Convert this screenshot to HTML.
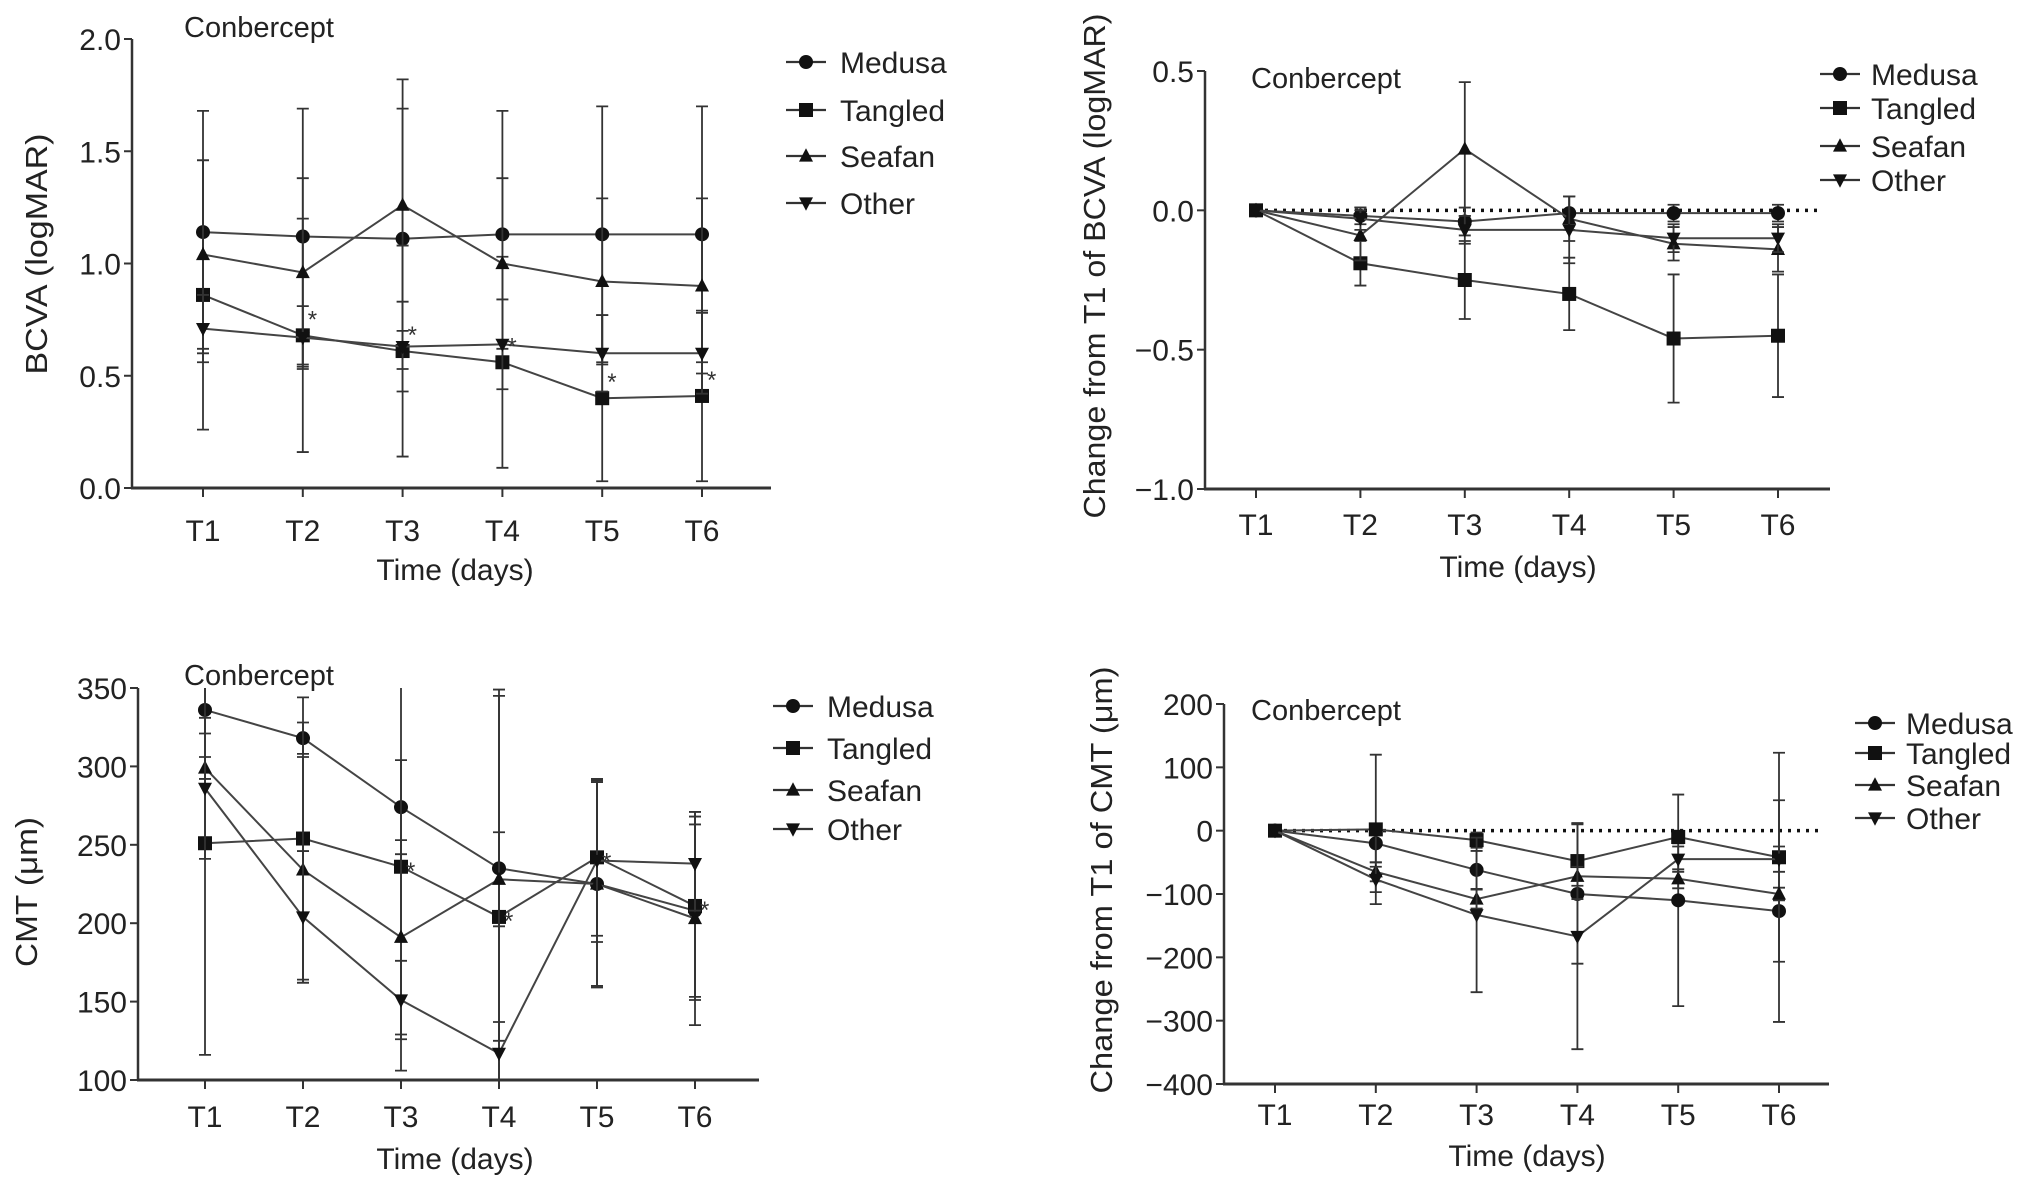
<!DOCTYPE html>
<html><head><meta charset="utf-8"><style>
html,body{margin:0;padding:0;background:#fff;}
svg{display:block;font-family:"Liberation Sans",Arial,sans-serif;}
</style></head><body>
<svg id="fig" width="2032" height="1184" viewBox="0 0 2032 1184" xmlns="http://www.w3.org/2000/svg"></svg>
<script>
const categories = ["T1","T2","T3","T4","T5","T6"];
const seriesNames = ["Medusa","Tangled","Seafan","Other"];
const markerShapes = ["circle","square","up","down"];

// Panel A: BCVA
const aTicks = [0,0.5,1.0,1.5,2.0];
const aTickLabels = ["0.0","0.5","1.0","1.5","2.0"];
const aMedusa = [1.14,1.12,1.11,1.13,1.13,1.13];
const aTangled = [0.86,0.68,0.61,0.56,0.40,0.41];
const aSeafan = [1.04,0.96,1.26,1.00,0.92,0.90];
const aOther = [0.71,0.67,0.63,0.64,0.60,0.60];
const aMedusaSd = [0.54,0.57,0.58,0.55,0.57,0.57];
const aTangledSd = [0.60,0.52,0.47,0.47,0.37,0.38];
const aSeafanSd = [0.42,0.42,0.56,0.38,0.37,0.39];
const aOtherSd = [0.15,0.14,0.20,0.20,0.17,0.18];

// Panel B: change in BCVA
const bTicks = [-1.0,-0.5,0,0.5];
const bTickLabels = ["\u22121.0","\u22120.5","0.0","0.5"];
const bMedusa = [0,-0.02,-0.04,-0.01,-0.01,-0.01];
const bTangled = [0,-0.19,-0.25,-0.30,-0.46,-0.45];
const bSeafan = [0,-0.09,0.22,-0.03,-0.12,-0.14];
const bOther = [0,-0.03,-0.07,-0.07,-0.10,-0.10];
const bMedusaSd = [0,0.03,0.05,0.06,0.03,0.03];
const bTangledSd = [0,0.08,0.14,0.13,0.23,0.22];
const bSeafanSd = [0,0.09,0.24,0.08,0.06,0.08];
const bOtherSd = [0,0.04,0.05,0.12,0.05,0.05];

// Panel C: CMT
const cTicks = [100,150,200,250,300,350];
const cTickLabels = ["100","150","200","250","300","350"];
const cMedusa = [336,318,274,235,225,208];
const cTangled = [251,254,236,204,242,211];
const cSeafan = [299,234,191,228,225,203];
const cOther = [286,204,151,117,240,238];
const cMedusaSd = [15,10,30,110,65,55];
const cTangledSd = [135,90,130,145,50,60];
const cSeafanSd = [7,72,62,30,66,68];
const cOtherSd = [45,42,25,20,52,30];

// Panel D: change in CMT
const dTicks = [-400,-300,-200,-100,0,100,200];
const dTickLabels = ["\u2212400","\u2212300","\u2212200","\u2212100","0","100","200"];
const dMedusa = [0,-20,-62,-100,-110,-127];
const dTangled = [0,2,-15,-48,-10,-42];
const dSeafan = [0,-65,-108,-72,-76,-100];
const dOther = [0,-77,-133,-167,-45,-45];
const dMedusaSd = [0,30,30,110,167,175];
const dTangledSd = [0,118,12,60,10,165];
const dSeafanSd = [0,15,15,15,15,10];
const dOtherSd = [0,20,122,178,20,20];

const svg = document.getElementById('fig');
const NS = 'http://www.w3.org/2000/svg';
function mk(tag, attrs, parent){
  const e = document.createElementNS(NS, tag);
  for (const k in attrs) e.setAttribute(k, attrs[k]);
  (parent||svg).appendChild(e);
  return e;
}
function marker(g, shape, x, y, s){
  let e;
  if (shape==='circle') e = mk('circle',{cx:x,cy:y,r:s,fill:'#111'},g);
  else if (shape==='square') e = mk('rect',{x:x-s,y:y-s,width:2*s,height:2*s,fill:'#111'},g);
  else if (shape==='up') e = mk('polygon',{points:`${x},${y-s*1.1} ${x-s},${y+s*0.8} ${x+s},${y+s*0.8}`,fill:'#111'},g);
  else e = mk('polygon',{points:`${x},${y+s*1.1} ${x-s},${y-s*0.8} ${x+s},${y-s*0.8}`,fill:'#111'},g);
  return e;
}

function panel(p){
  const g = mk('g',{});
  
  
  const ys = v => p.y0 + (v - p.vmin)/(p.vmax - p.vmin)*(p.y1 - p.y0);
  const xs = i => p.xT1 + i*(p.xT6 - p.xT1)/(categories.length-1);
  const top = ys(p.vmax), bot = ys(p.vmin);
  const ya = mk('line',{x1:p.axX,y1:top,x2:p.axX,y2:p.y0,stroke:'#333','stroke-width':2.5},g);
   
  const xa = mk('line',{x1:p.axX-1,y1:p.y0,x2:p.axEnd,y2:p.y0,stroke:'#333','stroke-width':3},g);
   
  p.ticks.forEach((t,i)=>{
    const y = ys(t);
    mk('line',{x1:p.axX-8,y1:y,x2:p.axX,y2:y,stroke:'#333','stroke-width':2},g);
    const tl = mk('text',{x:p.axX-11,y:y+11,'font-size':30,'text-anchor':'end',fill:'#222'},g);
    tl.textContent = p.tickLabels[i];
     
  });
  categories.forEach((c,i)=>{
    const x = xs(i);
    mk('line',{x1:x,y1:p.y0,x2:x,y2:p.y0+9,stroke:'#333','stroke-width':2},g);
    const tl = mk('text',{x:x,y:p.tickY+11,'font-size':30,'text-anchor':'middle',fill:'#222'},g);
    tl.textContent = c;
     
  });
  const xt = mk('text',{x:p.xTitleX,y:p.xTitleY+11,'font-size':30,'text-anchor':'middle',fill:'#222'},g);
  xt.textContent = 'Time (days)';
   
  const yt = mk('text',{x:0,y:0,'font-size':31,'text-anchor':'middle',fill:'#222',textLength:p.yTitleLen,lengthAdjust:'spacingAndGlyphs',transform:`translate(${p.yTitleX+11},${p.yTitleY}) rotate(-90)`},g);
  yt.textContent = p.yTitle;
   
  const ct = mk('text',{x:p.conX,y:p.conY+10,'font-size':29,fill:'#222'},g);
  ct.textContent = 'Conbercept';
   
  if (p.zeroLine){
    const zl = mk('line',{x1:p.xT1,y1:ys(0),x2:p.axEnd-8,y2:ys(0),stroke:'#111','stroke-width':3.5,'stroke-dasharray':'3 6'},g);
     
  }
  p.series.forEach((vals,si)=>{
    const sg = mk('g',{},g);
    
    
    const sd = p.sds[si];
    vals.forEach((v,i)=>{
      if (!sd[i]) return;
      const x = xs(i);
      const yu = Math.max(ys(v+sd[i]), top), yl = Math.min(ys(v-sd[i]), bot);
      const eb = mk('path',{d:`M${x},${yu}V${yl}`+(ys(v+sd[i])>=top?`M${x-6},${yu}H${x+6}`:'')+(ys(v-sd[i])<=bot?`M${x-6},${yl}H${x+6}`:''),stroke:'#333','stroke-width':1.8,fill:'none'},sg);
       
    });
    const pts = vals.map((v,i)=>`${xs(i)},${ys(v)}`).join(' ');
    const ln = mk('polyline',{points:pts,fill:'none',stroke:'#444','stroke-width':2},sg);
     
    vals.forEach((v,i)=>{
      const m = marker(sg, markerShapes[si], xs(i), ys(v), 7);
       
    });
  });
  if (p.stars){
    p.stars.forEach(i=>{
      const st = mk('text',{x:xs(i)+5,y:ys(p.series[1][i])-p.starOff,'font-size':24,fill:'#333'},g);
      st.textContent = '*';
       
    });
  }
  seriesNames.forEach((n,i)=>{
    const lg = mk('g',{},g);
    
    
    const y = p.legY[i];
    mk('line',{x1:p.legX-20,y1:y,x2:p.legX+20,y2:y,stroke:'#333','stroke-width':2.2},lg);
    marker(lg, markerShapes[i], p.legX, y, 7);
    const t = mk('text',{x:p.legTX,y:y+11,'font-size':30,fill:'#222'},lg);
    t.textContent = n;
  });
}

panel({name:'bcva-chart',vmin:0,vmax:2,y0:488,y1:39,ticks:aTicks,tickLabels:aTickLabels,
  axX:132,axEnd:771,xT1:203,xT6:702,tickY:530,xTitleX:455,xTitleY:569,
  yTitle:'BCVA (logMAR)',yTitleX:36,yTitleY:254,yTitleLen:241,conX:184,conY:27,
  series:[aMedusa,aTangled,aSeafan,aOther],sds:[aMedusaSd,aTangledSd,aSeafanSd,aOtherSd],
  stars:[1,2,3,4,5],starOff:8,legX:806,legTX:840,legY:[62,110,156,203]});
panel({name:'bcva-change-chart',vmin:-1,vmax:0.5,y0:489,y1:71,ticks:bTicks,tickLabels:bTickLabels,
  axX:1205,axEnd:1830,xT1:1256,xT6:1778,tickY:524,xTitleX:1518,xTitleY:566,
  yTitle:'Change from T1 of BCVA (logMAR)',yTitleX:1094,yTitleY:266,yTitleLen:505,conX:1251,conY:78,zeroLine:true,
  series:[bMedusa,bTangled,bSeafan,bOther],sds:[bMedusaSd,bTangledSd,bSeafanSd,bOtherSd],
  legX:1840,legTX:1871,legY:[74,108,146,180]});
panel({name:'cmt-chart',vmin:100,vmax:350,y0:1080,y1:688,ticks:cTicks,tickLabels:cTickLabels,
  axX:138,axEnd:759,xT1:205,xT6:695,tickY:1116,xTitleX:455,xTitleY:1158,
  yTitle:'CMT (\u03bcm)',yTitleX:26,yTitleY:892,yTitleLen:150,conX:184,conY:675,
  series:[cMedusa,cTangled,cSeafan,cOther],sds:[cMedusaSd,cTangledSd,cSeafanSd,cOtherSd],
  stars:[2,3,4,5],starOff:-12,legX:793,legTX:827,legY:[706,748,790,829]});
panel({name:'cmt-change-chart',vmin:-400,vmax:200,y0:1084,y1:704,ticks:dTicks,tickLabels:dTickLabels,
  axX:1224,axEnd:1829,xT1:1275,xT6:1779,tickY:1114,xTitleX:1527,xTitleY:1155,
  yTitle:'Change from T1 of CMT (\u03bcm)',yTitleX:1101,yTitleY:880,yTitleLen:427,conX:1251,conY:710,zeroLine:true,
  series:[dMedusa,dTangled,dSeafan,dOther],sds:[dMedusaSd,dTangledSd,dSeafanSd,dOtherSd],
  legX:1875,legTX:1906,legY:[723,753,785,818]});
</script>
</body></html>
